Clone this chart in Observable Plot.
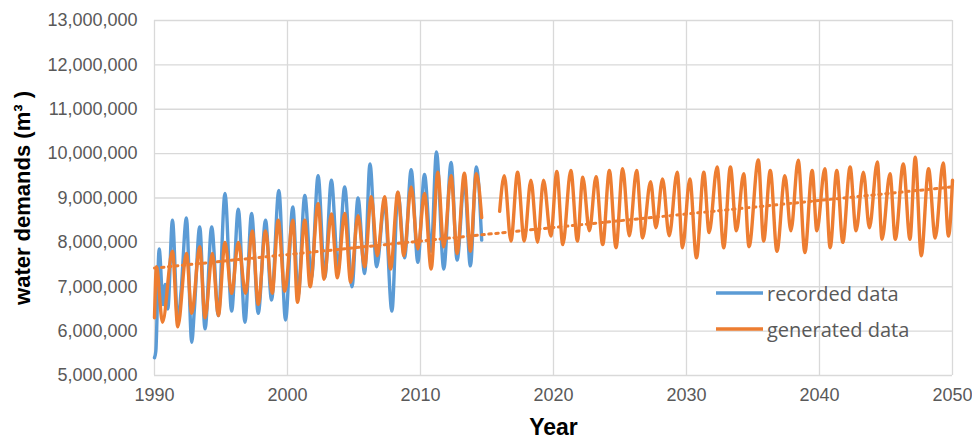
<!DOCTYPE html>
<html><head><meta charset="utf-8">
<script src="https://cdn.jsdelivr.net/npm/d3@7"></script>
<script src="https://cdn.jsdelivr.net/npm/@observablehq/plot@0.6"></script>
<style>
body{margin:0;background:#fff;}
#chart svg{display:block;}
</style></head><body><div id="chart"></div>
<script>
// values in millions of m3 (peaks and troughs)
const recordedYears = [1990.0,1990.1,1990.35,1990.65,1990.8,1991.0,1991.35,1991.75,1992.0,1992.4,1992.8,1993.0,1993.4,1993.8,1994.3,1994.8,1995.3,1995.8,1996.3,1996.8,1997.3,1997.8,1998.35,1998.8,1999.35,1999.85,2000.4,2000.8,2001.3,2001.8,2002.3,2002.8,2003.3,2003.8,2004.3,2004.85,2005.3,2005.8,2006.2,2006.7,2007.3,2007.85,2008.3,2008.8,2009.3,2009.8,2010.3,2010.8,2011.2,2011.75,2012.3,2012.75,2013.3,2013.75,2014.2,2014.6];
const recordedValues = [5.40,5.55,7.85,6.6,7.05,6.5,8.5,6.2,6.9,8.55,5.75,6.5,8.35,6.05,8.35,6.35,9.1,6.45,8.75,6.2,8.65,6.4,8.5,6.7,9.17,6.25,8.8,6.8,9.06,7.2,9.5,7.2,9.4,7.4,9.25,7.0,9.0,7.3,9.77,7.45,8.9,6.45,9.13,7.65,9.64,7.55,9.53,7.8,10.04,7.4,9.8,7.6,9.4,7.47,9.7,8.05];

const generatedYears = [1990.0,1990.15,1990.6,1991.35,1991.75,1992.4,1992.8,1993.4,1993.8,1994.35,1994.8,1995.3,1995.8,1996.3,1996.85,1997.35,1997.8,1998.35,1998.85,1999.3,1999.8,2000.4,2000.75,2001.3,2001.7,2002.3,2002.75,2003.3,2003.75,2004.3,2004.75,2005.3,2005.8,2006.3,2006.75,2007.3,2007.75,2008.3,2008.75,2009.3,2009.8,2010.3,2010.8,2011.3,2011.75,2012.3,2012.75,2013.3,2013.75,2014.2,2014.6];
const generatedValues = [6.3,7.45,6.2,7.8,6.1,7.75,6.4,7.9,6.3,7.75,6.35,8.0,6.85,8.0,6.85,8.26,6.6,8.26,6.85,8.5,6.9,8.5,6.65,8.5,7.0,8.87,7.17,8.64,7.2,8.65,7.1,8.6,7.45,9.03,7.7,9.03,7.4,9.13,7.7,9.25,7.85,9.1,7.4,9.58,7.9,9.5,7.75,9.56,7.8,9.55,8.56];

const projectedYears = [2015.95,2016.3,2016.8,2017.3,2017.8,2018.3,2018.8,2019.25,2019.8,2020.25,2020.7,2021.3,2021.8,2022.2,2022.7,2023.2,2023.7,2024.2,2024.7,2025.2,2025.7,2026.25,2026.7,2027.3,2027.7,2028.2,2028.7,2029.3,2029.7,2030.25,2030.75,2031.3,2031.7,2032.3,2032.8,2033.3,2033.75,2034.3,2034.7,2035.4,2035.8,2036.3,2036.8,2037.4,2037.85,2038.4,2038.9,2039.45,2039.8,2040.4,2040.8,2041.3,2041.75,2042.3,2042.75,2043.3,2043.75,2044.35,2044.7,2045.3,2045.7,2046.3,2046.8,2047.2,2047.65,2048.2,2048.7,2049.3,2049.7,2050.0];
const projectedValues = [8.7,9.5,8.03,9.58,8.03,9.4,8.0,9.4,8.14,9.6,7.95,9.62,8.03,9.47,8.26,9.48,7.95,9.62,7.88,9.66,8.15,9.62,8.1,9.37,8.33,9.43,8.15,9.58,7.88,9.43,7.65,9.58,8.22,9.7,7.88,9.7,8.26,9.55,7.9,9.86,8.03,9.62,7.8,9.5,8.26,9.85,7.77,9.62,8.26,9.66,7.88,9.62,8.0,9.7,8.26,9.58,8.33,9.81,8.07,9.55,8.07,9.77,8.07,9.92,7.7,9.66,8.1,9.79,8.14,9.4];

const trendYears = [1990, 2050];
const trendValues = [7.42, 9.25];

const xTicks = [1990, 2000, 2010, 2020, 2030, 2040, 2050];
const yTicks = [5e6, 6e6, 7e6, 8e6, 9e6, 10e6, 11e6, 12e6, 13e6];
const seriesNames = ["recorded data", "generated data"];
const seriesColors = ["#5B9BD5", "#ED7D31"];
const yTitle = "water demands (m³ )";
const xTitle = "Year";

const toRows = (ys, vs) => ys.map((t, i) => ({t, v: vs[i] * 1e6}));
const recorded = toRows(recordedYears, recordedValues);
const generated = toRows(generatedYears, generatedValues);
const projected = toRows(projectedYears, projectedValues);
const trend = toRows(trendYears, trendValues);

const lineOpts = {x: "t", y: "v", strokeWidth: 3.4, curve: "monotone-x", strokeLinejoin: "round"};

const chart = Plot.plot({
  width: 972, height: 439,
  marginTop: 20, marginBottom: 64, marginLeft: 154, marginRight: 20,
  x: {domain: [1990, 2050]},
  y: {domain: [5e6, 13e6]},
  style: {fontFamily: "'Liberation Sans', Arial, sans-serif", fontSize: "18px", color: "#595959", background: "#fff"},
  marks: [
    Plot.gridX(xTicks, {stroke: "#d9d9d9", strokeOpacity: 1, strokeWidth: 1.3}),
    Plot.gridY(yTicks, {stroke: "#d9d9d9", strokeOpacity: 1, strokeWidth: 1.3}),
    Plot.axisX(xTicks, {tickSize: 0, tickPadding: 13, label: null, tickFormat: "d"}),
    Plot.axisY(yTicks, {tickSize: 0, tickPadding: 17, label: null, tickFormat: d3.format(",")}),
    Plot.line(recorded, {...lineOpts, stroke: seriesColors[0]}),
    Plot.line(generated, {...lineOpts, stroke: seriesColors[1]}),
    Plot.line(projected, {...lineOpts, stroke: seriesColors[1]}),
    Plot.line(trend, {x: "t", y: "v", stroke: seriesColors[1], strokeWidth: 3, strokeDasharray: "2.5 4.5"}),
    Plot.text([yTitle], {text: d => d, frameAnchor: "left", textAnchor: "middle", lineAnchor: "middle", rotate: -90, dx: -132, fontWeight: "bold", fontSize: 22, fill: "#000"}),
    Plot.text([xTitle], {text: d => d, frameAnchor: "bottom", textAnchor: "middle", lineAnchor: "middle", dy: 52, fontWeight: "bold", fontSize: 23, fill: "#000"})
  ]
});

// in-plot legend
const lg = d3.select(chart).append("g")
  .attr("font-family", "'Open Sans', sans-serif").attr("font-size", 20)
  .attr("fill", "#595959").attr("text-anchor", "start");
seriesNames.forEach((name, i) => {
  const y = 293 + i * 36;
  lg.append("line").attr("x1", 716).attr("x2", 763).attr("y1", y).attr("y2", y)
    .attr("stroke", seriesColors[i]).attr("stroke-width", 3.5);
  lg.append("text").attr("x", 767).attr("y", y + 7.5).text(name);
});

document.getElementById("chart").append(chart);
</script></body></html>
